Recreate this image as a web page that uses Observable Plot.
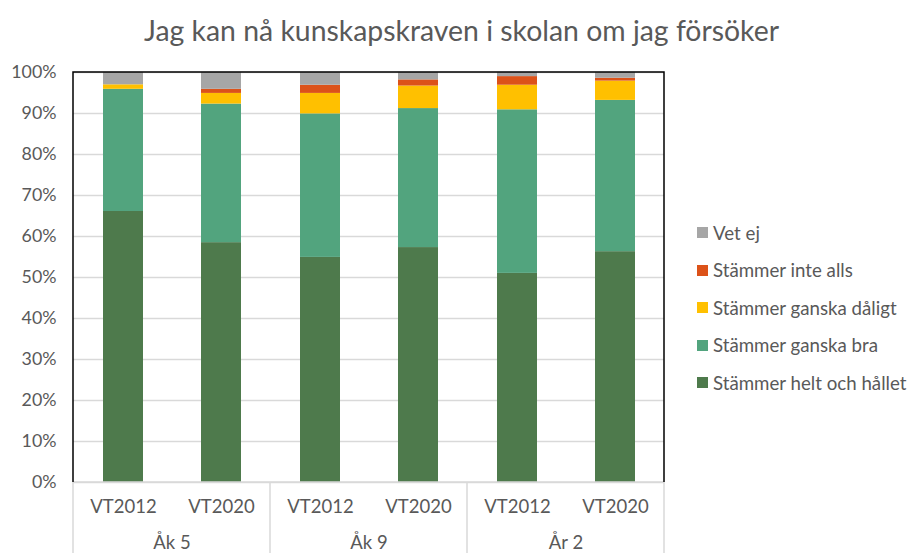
<!DOCTYPE html>
<html><head><meta charset="utf-8">
<script src="https://cdn.jsdelivr.net/npm/d3@7"></script>
<script src="https://cdn.jsdelivr.net/npm/@observablehq/plot@0.6"></script>
<style>
body{margin:0;background:#fff;font-family:Lato,sans-serif;color:#595959}
#wrap{position:relative;width:909px;height:553px;overflow:hidden}
#title{position:absolute;left:14px;right:0;top:11px;text-align:center;font-size:28.4px;line-height:38px;white-space:nowrap}
#chart{padding-top:50px}
#legend{position:absolute;left:697px;top:214px;font-size:18.7px}
.item{display:flex;align-items:center;height:37.5px;white-space:nowrap}
.sw{width:11px;height:11px;margin-right:5px;flex:none}
</style></head><body>
<div id="wrap">
<div id="title">Jag kan nå kunskapskraven i skolan om jag försöker</div>
<div id="chart"></div>
<div id="legend"></div>
</div>
<script>
const groups = ["Åk 5", "Åk 9", "År 2"];
const periods = ["VT2012", "VT2020"];
const series = ["Stämmer helt och hållet", "Stämmer ganska bra", "Stämmer ganska dåligt", "Stämmer inte alls", "Vet ej"];
const colors = ["#4e7a4c", "#52a47e", "#ffc000", "#dc5219", "#a6a6a6"];
// values in percent, bars in order: Åk5 VT2012, Åk5 VT2020, Åk9 VT2012, Åk9 VT2020, År2 VT2012, År2 VT2020
const heltOchHallet = [66.1, 58.5, 54.9, 57.3, 51.0, 56.3];
const ganskaBra = [29.8, 33.8, 35.0, 33.9, 39.9, 36.9];
const ganskaDaligt = [1.1, 2.6, 5.0, 5.5, 6.0, 4.7];
const inteAlls = [0.0, 1.0, 2.0, 1.5, 2.1, 0.7];
const vetEj = [3.0, 4.1, 3.1, 1.8, 1.0, 1.4];
const yTicks = [0, 0.1, 0.2, 0.3, 0.4, 0.5, 0.6, 0.7, 0.8, 0.9, 1.0];

const seriesValues = [heltOchHallet, ganskaBra, ganskaDaligt, inteAlls, vetEj];
const data = [];
for (let i = 0; i < 6; i++) {
  series.forEach((s, k) => {
    data.push({group: groups[Math.floor(i / 2)], period: periods[i % 2], series: s, value: seriesValues[k][i] / 100});
  });
}

const plot = Plot.plot({
  width: 909, height: 503,
  marginTop: 22, marginBottom: 71, marginLeft: 73, marginRight: 245,
  style: {fontFamily: "Lato, sans-serif", fontSize: "17.8px", color: "#595959", background: "#fff"},
  fx: {domain: groups, padding: 0, label: null},
  x: {domain: periods, paddingInner: 0.594, paddingOuter: 0.297, label: null},
  y: {domain: [0, 1], label: null},
  color: {domain: series, range: colors},
  marks: [
    Plot.gridY(yTicks, {stroke: "#d9d9d9", strokeOpacity: 1, strokeWidth: 1.5}),
    Plot.barY(data, {fx: "group", x: "period", y: "value", fill: "series"}),
    Plot.axisY(yTicks, {tickFormat: d3.format(".0%"), tickSize: 0, tickPadding: 17, label: null}),
    Plot.axisX({tickSize: 0, tickPadding: 17, label: null, fontSize: 18.5}),
    Plot.axisFx({anchor: "bottom", tickSize: 0, tickPadding: 53, label: null, fontSize: 18.5})
  ]
});
document.getElementById("chart").appendChild(plot);

// frame and category separators derived from scales
const fx = plot.scale("fx"), ys = plot.scale("y");
const bw = fx.bandwidth;
const edges = groups.map(g => fx.apply(g)).concat([fx.apply(groups[groups.length - 1]) + bw]);
const y0 = ys.apply(0), y1 = ys.apply(1);
const svg = d3.select(plot);
const g = svg.append("g");
g.append("line").attr("x1", edges[0]).attr("x2", edges[edges.length - 1]).attr("y1", y0).attr("y2", y0)
  .attr("stroke", "#d9d9d9").attr("stroke-width", 1.5);
edges.forEach(x => {
  g.append("line").attr("x1", x).attr("x2", x).attr("y1", y0).attr("y2", 503)
    .attr("stroke", "#d9d9d9").attr("stroke-width", 1.5);
});
g.append("path")
  .attr("d", `M${edges[0]},${y0}V${y1}H${edges[edges.length - 1]}V${y0}`)
  .attr("fill", "none").attr("stroke", "#000").attr("stroke-width", 1.5);

// legend (top to bottom: reverse of stacking)
const legend = d3.select("#legend");
series.slice().reverse().forEach(s => {
  const it = legend.append("div").attr("class", "item");
  it.append("div").attr("class", "sw").style("background", colors[series.indexOf(s)]);
  it.append("span").text(s);
});
</script>
</body></html>
